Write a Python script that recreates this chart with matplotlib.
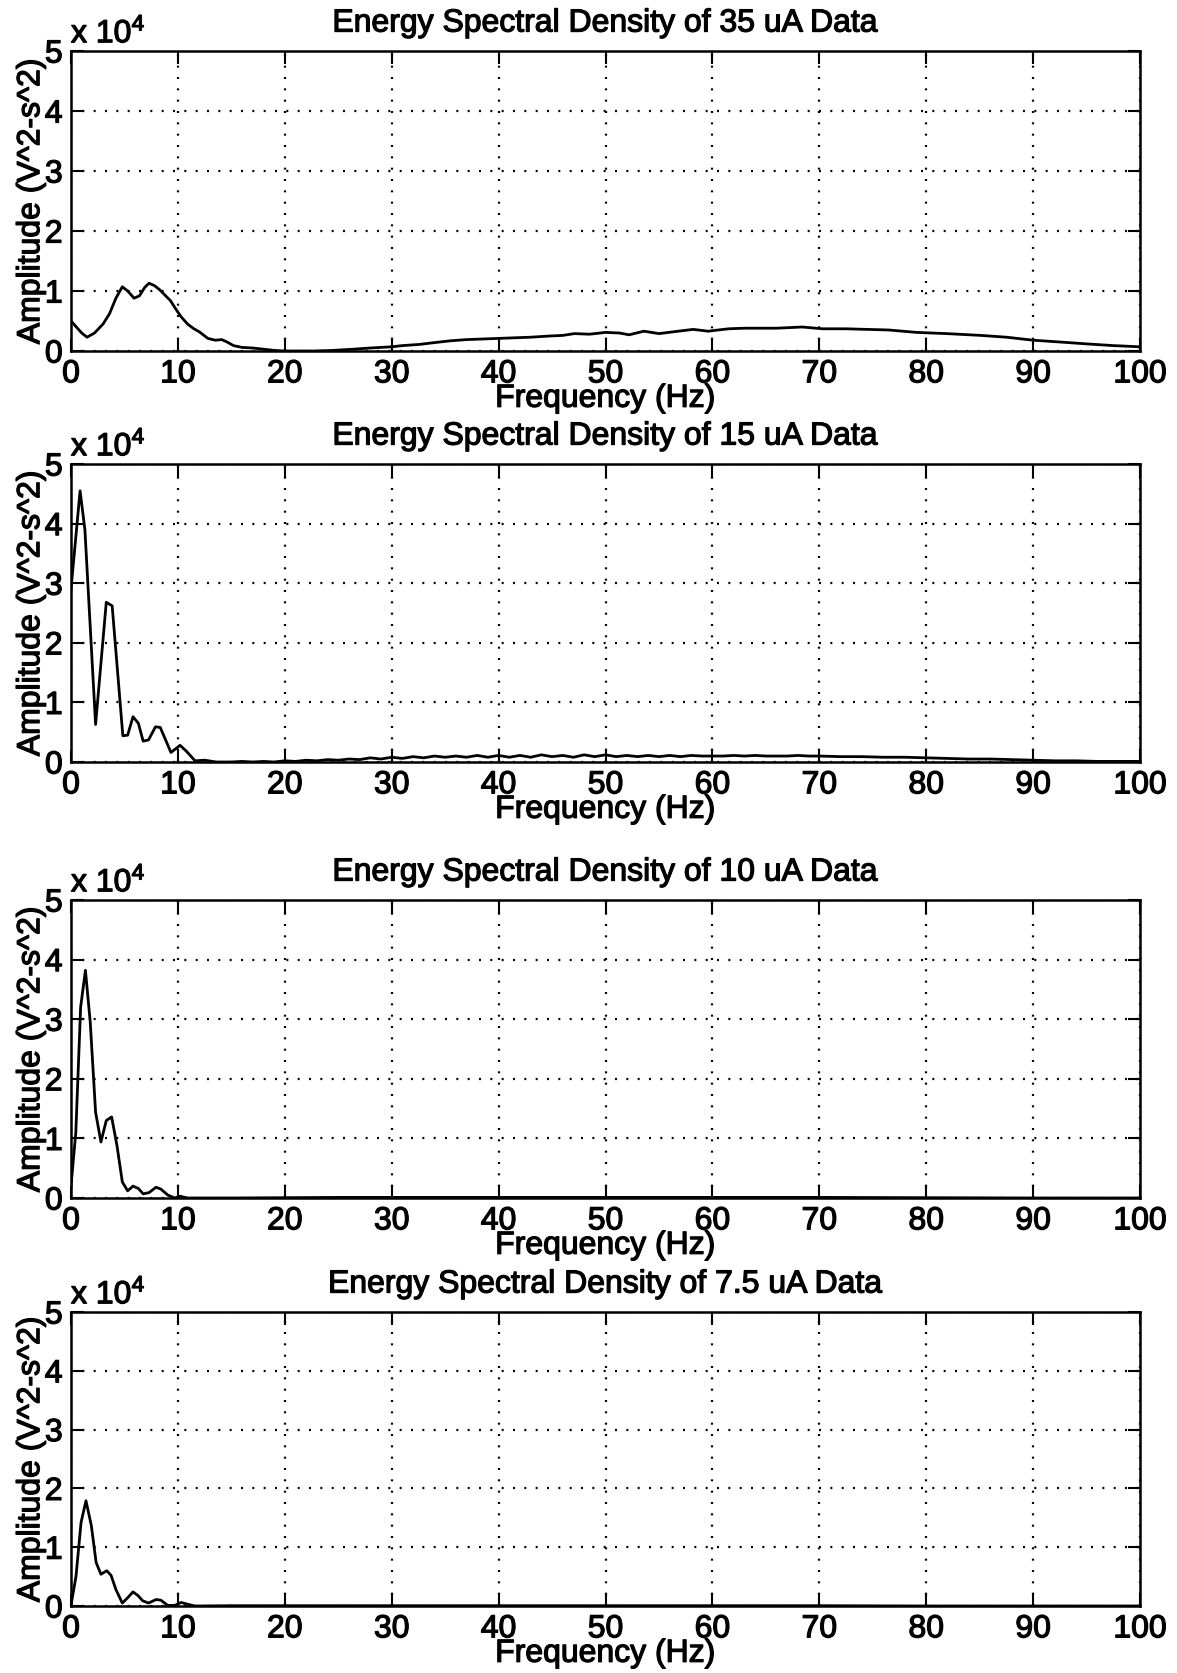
import numpy as np
import matplotlib
matplotlib.use('Agg')
import matplotlib.pyplot as plt
import matplotlib.patheffects as pe

plt.rcParams['font.family'] = ['Liberation Sans', 'DejaVu Sans']
plt.rcParams['mathtext.fontset'] = 'custom'
plt.rcParams['mathtext.rm'] = 'Liberation Sans'
plt.rcParams['mathtext.it'] = 'Liberation Sans'

# energy spectral density curves, amplitude in units of 1e4 V^2-s^2
f_35 = [0, 0.5, 1.0, 1.5, 2.2, 3.0, 3.6, 4.2, 4.8, 5.3, 5.9, 6.4, 6.9, 7.3, 7.8, 8.3, 8.8, 9.3, 9.8, 10.3,
        10.9, 11.5, 12.0, 12.8, 13.5, 14.1, 14.6, 15.2, 16.0, 17.0, 18.0, 19.0, 20.0, 21.0, 22.7, 24.5, 26.4, 28.0, 30.0, 31.0,
        32.6, 34.0, 35.5, 37.0, 38.5, 40.0, 41.5, 43.0, 44.8, 46.0, 47.1, 48.5, 50.0, 51.3, 52.2, 53.6, 55.0, 56.8, 58.2, 59.6,
        61.5, 63.0, 64.3, 66.0, 68.4, 70.3, 72.5, 74.5, 76.5, 79.1, 81.9, 85.1, 87.5, 90.0, 92.5, 94.9, 97.5, 100]
esd_35 = [0.50, 0.40, 0.30, 0.23, 0.30, 0.45, 0.62, 0.88, 1.07, 1.00, 0.88, 0.92, 1.06, 1.13, 1.09, 1.02, 0.93, 0.84, 0.70, 0.57,
          0.45, 0.37, 0.32, 0.21, 0.18, 0.19, 0.15, 0.09, 0.06, 0.05, 0.03, 0.01, 0.0, 0.0, 0.0, 0.01, 0.03, 0.05, 0.07, 0.09,
          0.11, 0.14, 0.17, 0.19, 0.20, 0.21, 0.22, 0.23, 0.25, 0.26, 0.29, 0.28, 0.31, 0.30, 0.27, 0.33, 0.29, 0.33, 0.36, 0.33,
          0.37, 0.38, 0.38, 0.38, 0.40, 0.37, 0.37, 0.36, 0.35, 0.31, 0.29, 0.26, 0.23, 0.18, 0.15, 0.12, 0.09, 0.07]

f_15 = [0, 0.85, 1.3, 2.3, 3.3, 3.85, 4.85, 5.3, 5.8, 6.3, 6.75, 7.25, 7.9, 8.35, 9.35, 10.2, 10.8, 11.6, 12.5, 13.6,
        15, 16, 17, 18, 19, 20, 21, 22, 23, 24, 25, 26, 27, 28, 29, 30, 31, 32, 33, 34, 35, 36, 37, 38, 39,
        40, 41, 42, 43, 44, 45, 46, 47, 48, 49, 50, 51, 52, 53, 54, 55, 56, 57, 58, 59, 60, 61, 62, 63, 64, 65,
        66, 67, 68, 69, 70, 72, 74, 76, 78, 80, 82, 84, 86, 88, 90, 92, 94, 96, 98, 100]
esd_15 = [2.9, 4.55, 3.9, 0.63, 2.68, 2.62, 0.44, 0.45, 0.76, 0.65, 0.35, 0.37, 0.59, 0.58, 0.16, 0.28, 0.18, 0.02, 0.03, 0.0,
          0.0, 0.01, 0.0, 0.01, 0.0, 0.02, 0.01, 0.03, 0.02, 0.04, 0.03, 0.05, 0.04, 0.07, 0.05, 0.08, 0.06, 0.09, 0.07, 0.10,
          0.08, 0.10, 0.08, 0.11, 0.08, 0.11, 0.08, 0.11, 0.08, 0.12, 0.09, 0.11, 0.08, 0.12, 0.09, 0.12, 0.09, 0.11, 0.09, 0.11,
          0.09, 0.11, 0.09, 0.11, 0.10, 0.10, 0.10, 0.11, 0.10, 0.11, 0.10, 0.10, 0.10, 0.11, 0.10, 0.10, 0.09, 0.09, 0.08, 0.08,
          0.07, 0.06, 0.05, 0.05, 0.04, 0.03, 0.02, 0.02, 0.01, 0.01, 0.01]

f_10 = [0, 0.45, 0.9, 1.35, 1.8, 2.3, 2.8, 3.3, 3.8, 4.3, 4.8, 5.3, 5.8, 6.3, 6.75, 7.3, 7.95, 8.4, 9.05, 9.7,
        10.2, 10.9, 12, 15, 20, 25, 30, 40, 50, 60, 70, 80, 90, 100]
esd_10 = [0.2, 1.1, 3.2, 3.82, 2.95, 1.44, 0.94, 1.3, 1.36, 0.88, 0.27, 0.12, 0.2, 0.16, 0.07, 0.09, 0.18, 0.15, 0.05, 0.0,
          0.03, 0.0, 0.0, 0.0, 0.005, 0.01, 0.01, 0.01, 0.01, 0.01, 0.01, 0.005, 0.0, 0.0]

f_75 = [0, 0.47, 0.94, 1.4, 1.9, 2.35, 2.8, 3.35, 3.75, 4.2, 4.8, 5.3, 5.8, 6.25, 6.7, 7.25, 7.95, 8.4, 9.05, 9.7,
        10.3, 10.9, 11.6, 15, 20, 30, 40, 50, 60, 70, 80, 90, 100]
esd_75 = [0.01, 0.51, 1.42, 1.79, 1.37, 0.74, 0.54, 0.6, 0.52, 0.28, 0.05, 0.14, 0.24, 0.18, 0.09, 0.05, 0.11, 0.1, 0.01, 0.01,
          0.06, 0.03, 0.0, 0.005, 0.005, 0.005, 0.005, 0.005, 0.005, 0.005, 0.0, 0.0, 0.0]

currents = ['35', '15', '10', '7.5']
series = [(f_35, esd_35), (f_15, esd_15), (f_10, esd_10), (f_75, esd_75)]

W, H = 1177, 1674
fig = plt.figure(figsize=(W / 100, H / 100), dpi=100)
# (top, bottom) of each panel in pixels
rows = [(52, 352), (465, 763), (901, 1199), (1313, 1607)]
left, right = 71, 1140
heavy = [pe.withStroke(linewidth=0.9, foreground='black')]

for (top, bot), cur, (f, v) in zip(rows, currents, series):
    ax = fig.add_axes([left / W, 1 - bot / H, (right - left) / W, (bot - top) / H])
    ax.plot(f, v, color='black', lw=2.0)
    ax.set_xlim(0, 100)
    ax.set_ylim(0, 5)
    ax.set_xticks(np.arange(0, 101, 10))
    ax.set_yticks(np.arange(0, 6, 1))
    ax.grid(True, color='black', lw=1.6, linestyle=(0, (0.9, 4.2)))
    ax.tick_params(direction='in', length=9, width=1.5, top=True, right=True, labelsize=23, pad=6)
    for s in ax.spines.values():
        s.set_linewidth(1.8)
    t = ax.set_title(f'Energy Spectral Density of {cur} uA Data', fontsize=23, pad=14)
    xl = ax.set_xlabel('Frequency (Hz)', fontsize=23, labelpad=-4)
    yl = ax.set_ylabel('Amplitude (V^2-s^2)', fontsize=23, labelpad=-1)
    mult = ax.text(0.0, 1.005, r'x 10$^4$', transform=ax.transAxes, fontsize=23, va='bottom', ha='left')
    for txt in [t, xl, yl, mult] + ax.get_xticklabels() + ax.get_yticklabels():
        txt.set_path_effects(heavy)

fig.savefig('out.png', dpi=100)
